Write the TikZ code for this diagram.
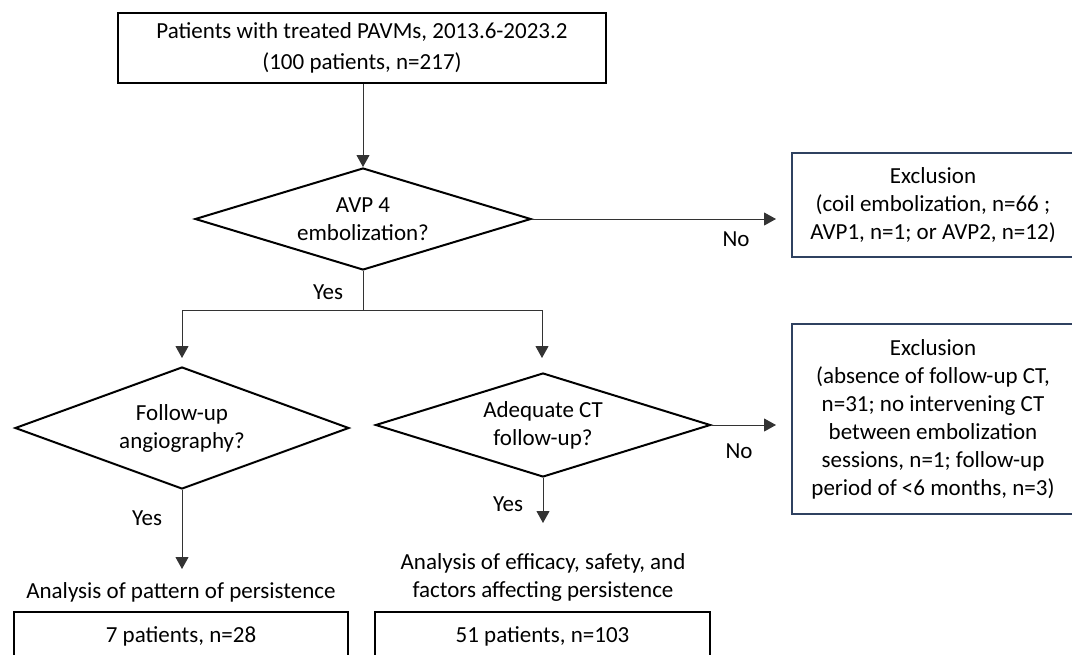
\documentclass[tikz,border=0pt]{standalone}
\usepackage{fontspec}
\setmainfont{Carlito}
\usetikzlibrary{arrows.meta,shapes.geometric}
\definecolor{exclblue}{HTML}{2F4160}
\tikzset{
	box/.style={draw=black, line width=2pt, align=center, inner sep=0pt},
	exclbox/.style={draw=exclblue, line width=2.5pt, align=center, inner sep=0pt},
	decision/.style={draw=black, line width=2pt, diamond, aspect=3, inner sep=0pt, align=center},
	conn/.style={draw=black!80, line width=1pt},
	arr/.style={conn, -{Triangle[width=13pt,length=12pt]}},
	txt/.style={align=center, inner sep=0pt},
}

\begin{document}
\begin{tikzpicture}[x=1pt, y=1pt, font=\fontsize{23}{28}\selectfont]
		%%%%% START %%%%%
		\useasboundingbox (0,0) rectangle (1072,-654);
		
		\node[box, minimum width=488pt, minimum height=70pt] (start) at (362,-48) {Patients with treated PAVMs, 2013.6-2023.2\\[3pt](100 patients, n=217)};
		
		\node[decision, minimum width=336pt, minimum height=102pt] (avp) at (363,-219) {AVP 4\\embolization?};
		\node[exclbox, minimum width=282pt, minimum height=104pt] (excl1) at (933,-205) {Exclusion\\(coil embolization, n=66 ;\\AVP1, n=1; or AVP2, n=12)};
		
		\node[decision, minimum width=334pt, minimum height=122pt] (angio) at (182,-428) {Follow-up\\angiography?};
		\node[decision, minimum width=335pt, minimum height=104pt] (ctfu) at (543,-425) {Adequate CT\\follow-up?};
		\node[exclbox, minimum width=282pt, minimum height=190pt] (excl2) at (933,-419) {Exclusion\\(absence of follow-up CT,\\n=31; no intervening CT\\between embolization\\sessions, n=1; follow-up\\period of <6 months, n=3)};
		
		\node[txt] (pattern) at (181,-592) {Analysis of pattern of persistence};
		\node[txt] (efficacy) at (543,-577) {Analysis of efficacy, safety, and\\factors affecting persistence};
		\node[box, minimum width=334pt, minimum height=48pt] (grp1) at (181,-636) {7 patients, n=28};
		\node[box, minimum width=335pt, minimum height=48pt] (grp2) at (542.5,-636) {51 patients, n=103};
		
		% connector ends
		\coordinate (split) at (363,-310);
		\coordinate (tipL) at (182,-358);
		\coordinate (tipR) at (542,-358);
		\coordinate (noA) at (776,-219);
		\coordinate (noB) at (776,-425);
		\coordinate (tipP) at (182,-569);
		\coordinate (tipE) at (543,-523);
		
		\draw[arr] (avp.north |- start.south) -- (avp.north);
		\draw[arr] (avp.east) -- (noA);
		\draw[conn] (avp.south) -- (split);
		\draw[arr] (split) -| (tipL);
		\draw[arr] (split) -| (tipR);
		\draw[arr] (ctfu.east) -- (noB);
		\draw[arr] (angio.south) -- (tipP);
		\draw[arr] (ctfu.south) -- (tipE);
		
		\node (yes1) at (328,-292) {Yes};
		\node (yes2) at (147,-518) {Yes};
		\node (yes3) at (508,-504) {Yes};
		\node (no1) at (736,-239) {No};
		\node (no2) at (739,-451) {No};
		
		%%%%% END %%%%%
	\end{tikzpicture}
\end{document}
